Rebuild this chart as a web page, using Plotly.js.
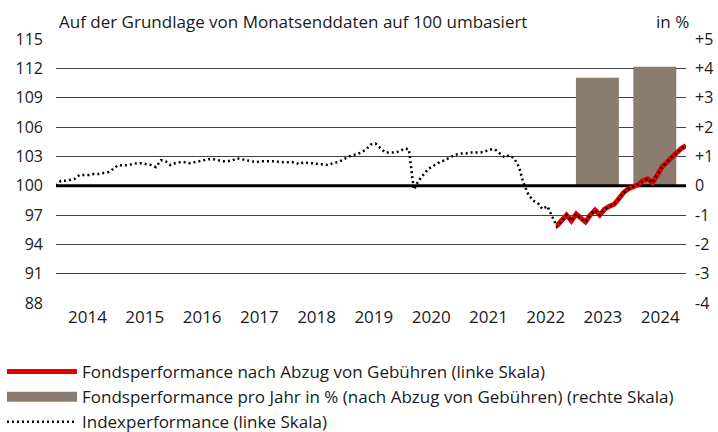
<!DOCTYPE html>
<html>
<head>
<meta charset="utf-8">
<script src="https://cdn.plot.ly/plotly-3.0.1.min.js"></script>
<style>html,body{margin:0;padding:0;background:#fff;}#chart{width:718px;height:432px;}</style>
</head>
<body>
<div id="chart"></div>
<script>
// Month-end series, starting December 2013, ending December 2024
const startYear = 2013, startMonth = 12;
const indexValues = [
  100.0, 100.5, 100.5, 100.6, 100.7, 101.1, 101.1, 101.1, 101.2, 101.2, 101.3, 101.4, // 2013-12 .. 2014-11
  101.7, 102.1, 102.1, 102.1, 102.2, 102.3, 102.3, 102.2, 102.1, 101.9, 102.6, 102.5, // 2014-12 .. 2015-11
  102.1, 102.3, 102.4, 102.4, 102.3, 102.4, 102.5, 102.6, 102.7, 102.7, 102.6, 102.5, // 2015-12 .. 2016-11
  102.5, 102.6, 102.8, 102.7, 102.6, 102.5, 102.4, 102.5, 102.5, 102.5, 102.5, 102.4, // 2016-12 .. 2017-11
  102.4, 102.4, 102.4, 102.2, 102.4, 102.3, 102.3, 102.2, 102.2, 102.1, 102.3, 102.4, // 2017-12 .. 2018-11
  102.6, 102.9, 103.1, 103.2, 103.4, 103.7, 104.2, 104.3, 103.8, 103.4, 103.4, 103.4, // 2018-12 .. 2019-11
  103.5, 103.8, 103.7, 99.6, 100.5, 101.1, 101.7, 102.0, 102.3, 102.5, 102.8, 103.0,  // 2019-12 .. 2020-11
  103.2, 103.3, 103.3, 103.4, 103.4, 103.4, 103.5, 103.7, 103.7, 103.3, 102.9, 103.1, // 2020-12 .. 2021-11
  102.8, 101.9, 100.3, 99.1, 98.5, 98.2, 97.6, 97.9, 96.9, 95.8, 96.4, 97.0,          // 2021-12 .. 2022-11
  96.4, 97.1, 96.7, 96.3, 97.0, 97.5, 97.0, 97.6, 97.9, 98.1, 98.7, 99.3,             // 2022-12 .. 2023-11
  99.7, 99.9, 100.1, 100.5, 100.7, 100.3, 101.1, 101.9, 102.4, 102.9, 103.3, 103.8,   // 2023-12 .. 2024-11
  104.1                                                                              // 2024-12
];
// Fund starts at end of September 2022
const fundStartIndex = 105;
const fundValues = [
  95.9, 96.4, 97.0, 96.4, 97.1, 96.7, 96.3, 97.0, 97.5, 97.0, 97.6, 97.9, 98.1, 98.7,
  99.3, 99.7, 99.9, 100.1, 100.5, 100.7, 100.3, 101.1, 101.9, 102.4, 102.9, 103.3, 103.8, 104.1
];
const barYears = ['2023', '2024'];
const barValues = [3.68, 4.05];
const yearLabels = ['2014','2015','2016','2017','2018','2019','2020','2021','2022','2023','2024'];
const leftTicks = [88, 91, 94, 97, 100, 103, 106, 109, 112, 115];
const rightTicks = [-4, -3, -2, -1, 0, 1, 2, 3, 4, 5];

function monthEnd(i) {
  const y = startYear + Math.floor((startMonth - 1 + i) / 12);
  const m = (startMonth - 1 + i) % 12; // 0-based
  const d = new Date(Date.UTC(y, m + 1, 0));
  return d.toISOString().slice(0, 10);
}
const dates = indexValues.map((_, i) => monthEnd(i));
const fundDates = fundValues.map((_, i) => monthEnd(fundStartIndex + i));
const barX = barYears.map(y => y + '-06-15');
const barWidth = 274 * 86400000;

const font = "Open Sans, sans-serif";
const txt = '#1a1a1a';

const traces = [
  {
    type: 'bar', x: barX, y: barValues, yaxis: 'y', xaxis: 'x',
    width: barWidth, marker: {color: '#8a7d70', line: {width: 0}},
    showlegend: false, hoverinfo: 'skip'
  },
  {
    type: 'scatter', mode: 'lines', x: [dates[0], dates[dates.length - 1]], y: [100, 100],
    yaxis: 'y2', line: {color: '#000', width: 3}, showlegend: false, hoverinfo: 'skip'
  },
  {
    type: 'scatter', mode: 'lines', x: fundDates, y: fundValues, yaxis: 'y2',
    name: 'Fondsperformance nach Abzug von Gebühren (linke Skala)',
    line: {color: '#e30000', width: 5}, legendrank: 1
  },
  {
    type: 'scatter', mode: 'lines', x: [null], y: [null], yaxis: 'y2',
    name: 'Fondsperformance pro Jahr in % (nach Abzug von Gebühren) (rechte Skala)',
    line: {color: '#8a7d70', width: 10}, legendrank: 2
  },
  {
    type: 'scatter', mode: 'lines', x: dates, y: indexValues, yaxis: 'y2',
    name: 'Indexperformance (linke Skala)',
    line: {color: '#000', width: 2.5, dash: '2px,3px'}, legendrank: 3
  }
];

const layout = {
  width: 718, height: 432,
  margin: {l: 56, r: 32, t: 39, b: 129, pad: 0, autoexpand: false},
  paper_bgcolor: '#fff', plot_bgcolor: '#fff',
  font: {family: font, size: 16, color: txt},
  showlegend: true,
  legend: {
    xref: 'paper', yref: 'paper', x: -54 / 630, y: -(354 - 303) / 264,
    xanchor: 'left', yanchor: 'top', orientation: 'h',
    entrywidth: 1, entrywidthmode: 'fraction',
    font: {family: font, size: 17, color: txt},
    itemwidth: 70, tracegroupgap: 0, bgcolor: 'rgba(0,0,0,0)'
  },
  xaxis: {
    type: 'date', range: [dates[0], dates[dates.length - 1]],
    tickvals: yearLabels.map(y => y + '-07-20'), ticktext: yearLabels,
    showgrid: false, zeroline: false, showline: false, ticks: '',
    tickfont: {family: font, size: 17, color: txt}, ticklabelstandoff: 2
  },
  yaxis: {
    side: 'right', range: [-4, 5], tickvals: rightTicks,
    ticktext: rightTicks.map(v => v > 0 ? '+' + v : String(v)),
    showgrid: true, gridcolor: '#444', gridwidth: 1, zeroline: false, showline: false,
    ticks: '', tickfont: {family: font, size: 16, color: txt}, ticklabelstandoff: 8
  },
  yaxis2: {
    overlaying: 'y', side: 'left', range: [88, 115], tickvals: leftTicks,
    showgrid: false, zeroline: false, showline: false, ticks: '',
    tickfont: {family: font, size: 16, color: txt}, ticklabelstandoff: 12
  },
  annotations: [
    {text: 'Auf der Grundlage von Monatsenddaten auf 100 umbasiert', xref: 'paper', yref: 'paper',
     x: 1 / 630, y: 1 + (39 - 21) / 264, xanchor: 'left', yanchor: 'middle', showarrow: false,
     font: {family: font, size: 17, color: txt}},
    {text: 'in %', xref: 'paper', yref: 'paper',
     x: 1 + 5 / 630, y: 1 + (39 - 21) / 264, xanchor: 'right', yanchor: 'middle', showarrow: false,
     font: {family: font, size: 17, color: txt}}
  ]
};

Plotly.newPlot('chart', traces, layout, {staticPlot: true, displayModeBar: false});
</script>
</body>
</html>
